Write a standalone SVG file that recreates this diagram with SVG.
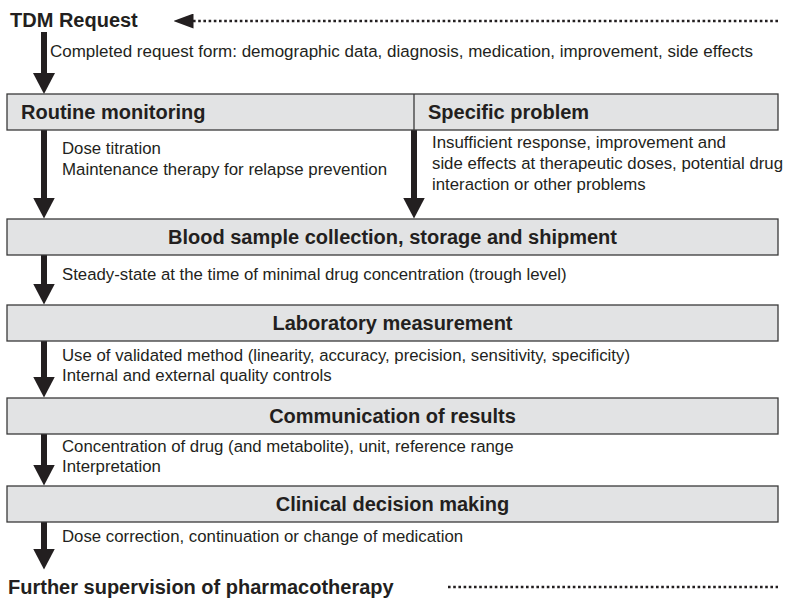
<svg xmlns="http://www.w3.org/2000/svg" width="786" height="601" viewBox="0 0 786 601">
  <defs>
    <marker id="head" viewBox="0 0 21 22" markerWidth="21" markerHeight="22" markerUnits="userSpaceOnUse" refX="0.5" refY="11" orient="auto">
      <path d="M0,0 L21,11 L0,22 Z" fill="#231f20"/>
    </marker>
    <marker id="headSmall" viewBox="0 0 20 15" markerWidth="20" markerHeight="15" markerUnits="userSpaceOnUse" refX="0.5" refY="7.5" orient="auto">
      <path d="M0,0 L20,7.5 L0,15 Z" fill="#231f20"/>
    </marker>
    <style>
      .box { fill: #e2e3e4; stroke: #3a3a3a; stroke-width: 1.3; }
      .div { stroke: #3a3a3a; stroke-width: 1.3; }
      .arrow { stroke: #231f20; stroke-width: 6; fill: none; marker-end: url(#head); }
      .dots { stroke: #231f20; stroke-width: 2.6; stroke-dasharray: 2.6 2.6; fill: none; }
      .t { font-family: "Liberation Sans", Arial, sans-serif; font-size: 16.8px; fill: #231f20; }
      .h { font-family: "Liberation Sans", Arial, sans-serif; font-size: 20px; font-weight: bold; fill: #231f20; }
      .c { text-anchor: middle; }
    </style>
  </defs>
  <rect width="786" height="601" fill="#ffffff"/>

  <g id="connectors">
    <line class="dots" x1="778" y1="21" x2="193" y2="21" style="marker-end: url(#headSmall)"/>
    <line class="arrow" x1="44" y1="32" x2="44" y2="73.5"/>
    <line class="arrow" x1="44" y1="130" x2="44" y2="198"/>
    <line class="arrow" x1="414" y1="130" x2="414" y2="198"/>
    <line class="arrow" x1="44" y1="255" x2="44" y2="284"/>
    <line class="arrow" x1="44" y1="341" x2="44" y2="377"/>
    <line class="arrow" x1="44" y1="434" x2="44" y2="465"/>
    <line class="arrow" x1="44" y1="522" x2="44" y2="549"/>
    <line class="dots" x1="448" y1="587" x2="778" y2="587"/>
  </g>

  <g id="tdm-request">
    <text class="h" x="10" y="27">TDM Request</text>
  </g>
  <g id="label-request">
    <text class="t" x="50" y="57" textLength="703" lengthAdjust="spacingAndGlyphs">Completed request form: demographic data, diagnosis, medication, improvement, side effects</text>
  </g>

  <g id="routine-specific">
    <rect class="box" x="7" y="94" width="771" height="36"/>
    <line class="div" x1="414" y1="94" x2="414" y2="130"/>
  </g>
  <g id="routine-monitoring">
    <text class="h" x="21" y="119">Routine monitoring</text>
  </g>
  <g id="specific-problem">
    <text class="h" x="428" y="119">Specific problem</text>
  </g>
  <g id="label-routine">
    <text class="t" x="62" y="154">Dose titration</text>
    <text class="t" x="62" y="175" textLength="325" lengthAdjust="spacingAndGlyphs">Maintenance therapy for relapse prevention</text>
  </g>
  <g id="label-specific">
    <text class="t" x="432" y="148" textLength="294" lengthAdjust="spacingAndGlyphs">Insufficient response, improvement and</text>
    <text class="t" x="432" y="169" textLength="351" lengthAdjust="spacingAndGlyphs">side effects at therapeutic doses, potential drug</text>
    <text class="t" x="432" y="190">interaction or other problems</text>
  </g>

  <g id="blood-sample">
    <rect class="box" x="7" y="219" width="771" height="36"/>
    <text class="h c" x="392.5" y="244">Blood sample collection, storage and shipment</text>
  </g>
  <g id="label-blood">
    <text class="t" x="62" y="280">Steady-state at the time of minimal drug concentration (trough level)</text>
  </g>

  <g id="laboratory-measurement">
    <rect class="box" x="7" y="305" width="771" height="36"/>
    <text class="h c" x="392.5" y="330">Laboratory measurement</text>
  </g>
  <g id="label-lab">
    <text class="t" x="62" y="361">Use of validated method (linearity, accuracy, precision, sensitivity, specificity)</text>
    <text class="t" x="62" y="381">Internal and external quality controls</text>
  </g>

  <g id="communication-results">
    <rect class="box" x="7" y="398" width="771" height="36"/>
    <text class="h c" x="392.5" y="423">Communication of results</text>
  </g>
  <g id="label-communication">
    <text class="t" x="62" y="452">Concentration of drug (and metabolite), unit, reference range</text>
    <text class="t" x="62" y="472">Interpretation</text>
  </g>

  <g id="clinical-decision">
    <rect class="box" x="7" y="486" width="771" height="36"/>
    <text class="h c" x="392.5" y="511">Clinical decision making</text>
  </g>
  <g id="label-clinical">
    <text class="t" x="62" y="542">Dose correction, continuation or change of medication</text>
  </g>

  <g id="further-supervision">
    <text class="h" x="8" y="594">Further supervision of pharmacotherapy</text>
  </g>
</svg>
